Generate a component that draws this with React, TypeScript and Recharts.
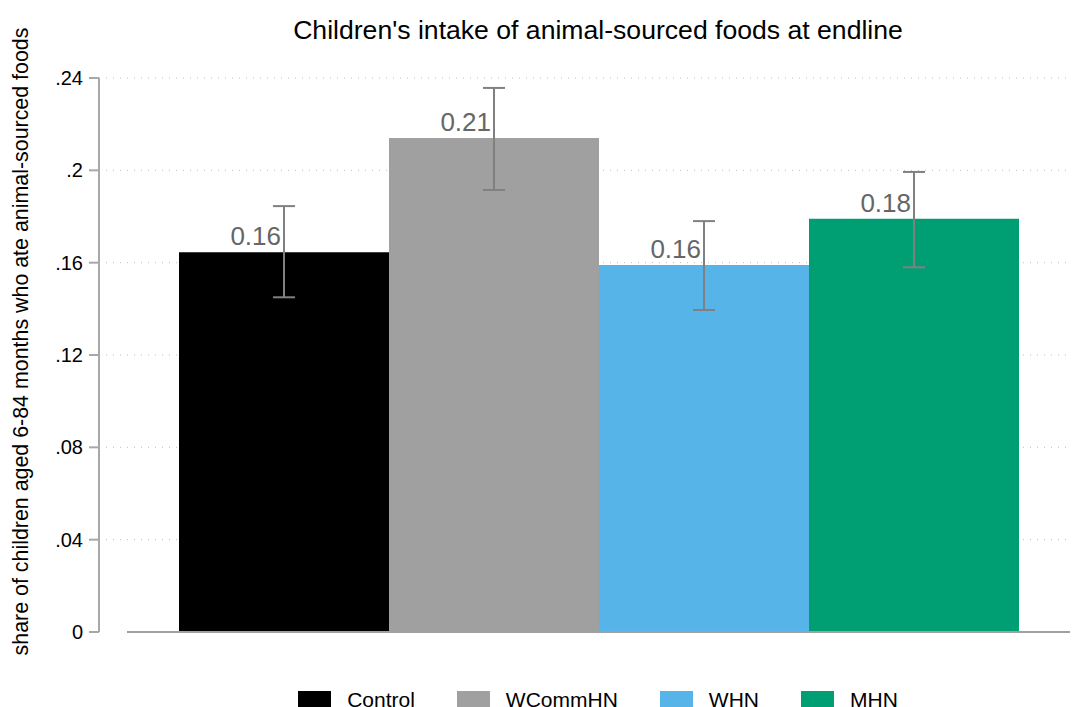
import React from 'react'
import {
  BarChart,
  Bar,
  XAxis,
  YAxis,
  CartesianGrid,
  ErrorBar,
  LabelList,
  ReferenceLine,
} from 'recharts'

const groups = ['Control', 'WCommHN', 'WHN', 'MHN']
const colors = ['#000000', '#a0a0a0', '#56b4e9', '#009e73']
const shares = [0.1645, 0.214, 0.159, 0.179]
const ciLow = [0.145, 0.1915, 0.1395, 0.158]
const ciHigh = [0.1845, 0.2357, 0.178, 0.1993]
const yTicks = [0, 0.04, 0.08, 0.12, 0.16, 0.2, 0.24]

const title = "Children's intake of animal-sourced foods at endline"
const yLabel = 'share of children aged 6-84 months who ate animal-sourced foods'

const FONT = '"Liberation Sans", Arial, Helvetica, sans-serif'
const X_PAD = 28

const row: Record<string, any> = { name: 'endline' }
groups.forEach((g, i) => {
  row[g] = shares[i]
  row[g + '_err'] = [shares[i] - ciLow[i], ciHigh[i] - shares[i]]
})
const data = [row]

const fmtTick = (v: number) => (v === 0 ? '0' : String(v).replace(/^0/, ''))

const ValueLabel = (props: any) => {
  const { x, y, width, value } = props
  return (
    <text
      x={x + width / 2 - 3}
      y={y - 7}
      textAnchor="end"
      fontSize={26}
      fontFamily={FONT}
      fill="#666666"
    >
      {Number(value).toFixed(2)}
    </text>
  )
}

export default function App() {
  return (
    <div
      style={{
        position: 'absolute',
        left: 0,
        top: 0,
        width: 1091,
        height: 707,
        overflow: 'hidden',
        background: '#fff',
        fontFamily: FONT,
      }}
    >
      <div
        style={{
          position: 'absolute',
          left: 198,
          top: 17,
          width: 800,
          textAlign: 'center',
          fontSize: 26.6,
          lineHeight: '26px',
          whiteSpace: 'nowrap',
          color: '#000',
        }}
      >
        {title}
      </div>
      <div
        style={{
          position: 'absolute',
          left: 21 - 350,
          top: 341 - 10.5,
          width: 700,
          textAlign: 'center',
          fontSize: 21.4,
          lineHeight: '21px',
          whiteSpace: 'nowrap',
          transform: 'rotate(-90deg)',
          color: '#000',
        }}
      >
        {yLabel}
      </div>
      <BarChart
        width={1091}
        height={707}
        data={data}
        margin={{ top: 78, right: 21, bottom: 75, left: 0 }}
        barGap={0}
        barCategoryGap={52}
      >
        <CartesianGrid
          vertical={false}
          horizontalValues={yTicks.slice(1)}
          stroke="#bdbdbd"
          strokeDasharray="1 6"
        />
        <XAxis dataKey="name" hide padding={{ left: X_PAD, right: 0 }} />
        <YAxis
          width={99}
          domain={[0, 0.24]}
          ticks={yTicks}
          tickFormatter={fmtTick}
          tick={{ fontFamily: FONT, fontSize: 20, fill: '#000' }}
          tickSize={10}
          tickMargin={6}
          tickLine={{ stroke: '#a8a8a8', strokeWidth: 2 }}
          axisLine={{ stroke: '#a8a8a8', strokeWidth: 2 }}
        />
        {groups.map((g, i) => (
          <Bar key={g} dataKey={g} fill={colors[i]} isAnimationActive={false}>
            <ErrorBar
              dataKey={g + '_err'}
              width={11}
              stroke="#808080"
              strokeWidth={2}
              isAnimationActive={false}
            />
            <LabelList dataKey={g} content={ValueLabel} />
          </Bar>
        ))}
        <ReferenceLine
          y={0}
          shape={(p: any) => (
            <line
              x1={p.x1 + X_PAD}
              y1={p.y1}
              x2={p.x2}
              y2={p.y2}
              stroke="#a0a0a0"
              strokeWidth={2}
            />
          )}
        />
      </BarChart>
      <div
        style={{
          position: 'absolute',
          left: 0,
          top: 689,
          width: 1196,
          display: 'flex',
          justifyContent: 'center',
          gap: 42,
          fontSize: 21,
          lineHeight: '22px',
          whiteSpace: 'nowrap',
        }}
      >
        {groups.map((g, i) => (
          <div key={g} style={{ display: 'flex', alignItems: 'flex-start' }}>
            <div
              style={{
                width: 33,
                height: 22,
                marginTop: 2,
                marginRight: 16,
                background: colors[i],
              }}
            />
            <span>{g}</span>
          </div>
        ))}
      </div>
    </div>
  )
}
